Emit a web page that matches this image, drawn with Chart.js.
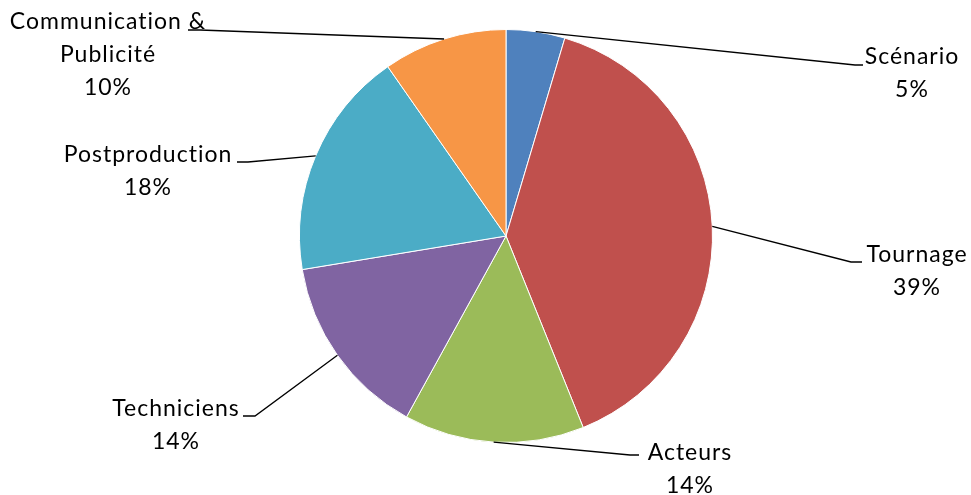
<!DOCTYPE html>
<html>
<head>
<meta charset="utf-8">
<script src="https://cdn.jsdelivr.net/npm/chart.js@4"></script>
<style>
  html, body { margin: 0; padding: 0; background: #fff; }
  #wrap { width: 971px; height: 495px; }
</style>
</head>
<body>
<div id="wrap"><canvas id="my-chart" width="971" height="495"></canvas></div>
<script>
"use strict";

const categories = ["Scénario", "Tournage", "Acteurs", "Techniciens", "Postproduction", "Communication & Publicité"];
const shares = [4.6, 39.3, 14.1, 14.4, 17.9, 9.7];
const colors = ["#4F81BD", "#C0504D", "#9BBB59", "#8064A2", "#4BACC6", "#F79646"];

// where each label sits: elbow of the leader line, end of the short tick, text centre, text lines
const labelLayout = [
  { elbow: [855, 65], tick: [863, 65], text: [912, 57], lines: ["Scénario"] },
  { elbow: [851, 262], tick: [862, 262], text: [917, 255], lines: ["Tournage"] },
  { elbow: [630, 455], tick: [639, 455], text: [690, 453], lines: ["Acteurs"] },
  { elbow: [255, 416], tick: [243, 416], text: [176, 409], lines: ["Techniciens"] },
  { elbow: [248, 162], tick: [237, 162], text: [148, 155], lines: ["Postproduction"] },
  { elbow: [200, 30], tick: [188, 30], text: [108, 22], lines: ["Communication &", "Publicité"] },
];

const leaderLabels = {
  id: "leaderLabels",
  afterDraw(chart) {
    const ctx = chart.ctx;
    const arcs = chart.getDatasetMeta(0).data;
    const total = shares.reduce((a, b) => a + b, 0);
    ctx.save();
    ctx.strokeStyle = "#000";
    ctx.lineWidth = 1.3;
    ctx.fillStyle = "#000";
    ctx.font = "23px Lato, 'Open Sans', sans-serif";
    // no "ti" ligature, slightly wider like the original
    ctx.textRendering = "optimizeSpeed";
    ctx.letterSpacing = "1px";
    ctx.textAlign = "center";
    ctx.textBaseline = "middle";
    arcs.forEach((arc, i) => {
      const lay = labelLayout[i];
      const mid = (arc.startAngle + arc.endAngle) / 2;
      const sx = arc.x + Math.cos(mid) * arc.outerRadius;
      const sy = arc.y + Math.sin(mid) * arc.outerRadius;
      ctx.beginPath();
      ctx.moveTo(sx, sy);
      ctx.lineTo(lay.elbow[0], lay.elbow[1]);
      ctx.lineTo(lay.tick[0], lay.tick[1]);
      ctx.stroke();
      const pct = Math.round((shares[i] / total) * 100) + "%";
      const lines = lay.lines.concat([pct]);
      lines.forEach((t, k) => {
        ctx.fillText(t, lay.text[0], lay.text[1] + k * 33);
      });
    });
    ctx.restore();
  },
};

new Chart(document.getElementById("my-chart"), {
  type: "pie",
  data: {
    labels: categories,
    datasets: [
      {
        data: shares,
        backgroundColor: colors,
        borderColor: "#fff",
        borderWidth: 1,
      },
    ],
  },
  options: {
    responsive: false,
    animation: false,
    layout: { padding: { top: 29, bottom: 52, left: 299, right: 258 } },
    plugins: {
      legend: { display: false },
      tooltip: { enabled: false },
    },
  },
  plugins: [leaderLabels],
});
</script>
</body>
</html>
